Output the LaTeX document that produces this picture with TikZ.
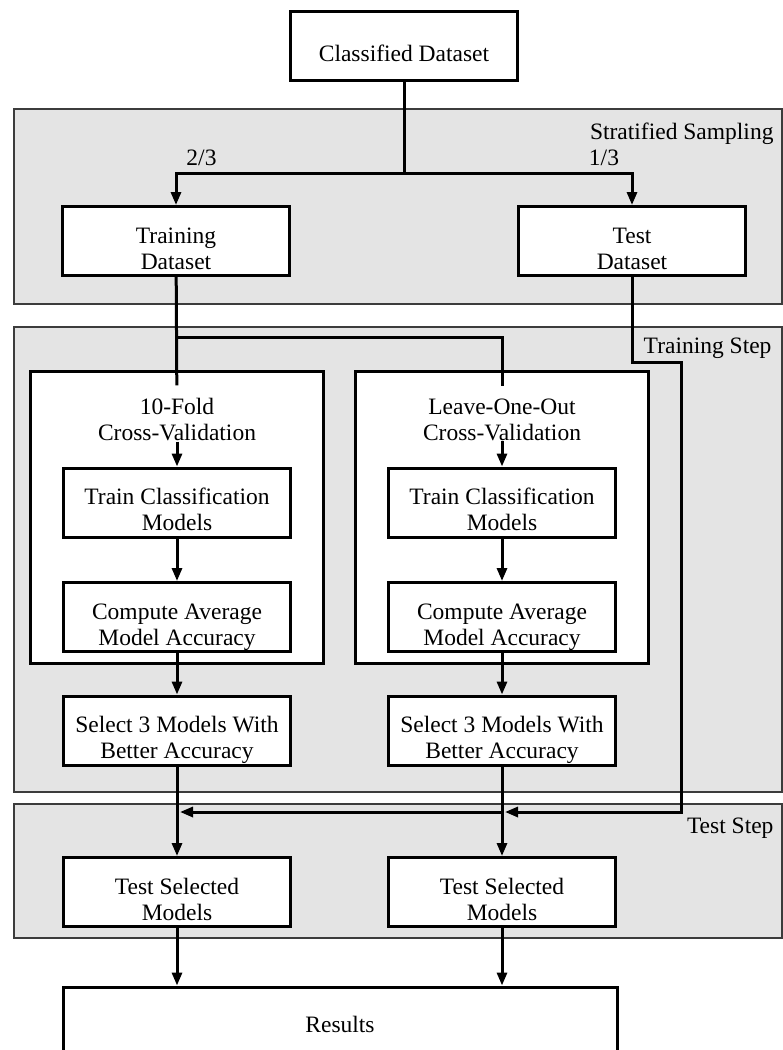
\documentclass[tikz,border=0pt]{standalone}
\usepackage{fontspec}
\setmainfont{Liberation Serif}
\usetikzlibrary{arrows.meta,calc}
\definecolor{panel}{HTML}{E4E4E4}
\definecolor{rim}{HTML}{3C3C3C}
\newcommand\boxtext[2][-10pt]{\raisebox{#1}[\height][\depth]{\begin{tabular}{@{}c@{}}#2\end{tabular}}}

\begin{document}
\begin{tikzpicture}[x=1pt,y=-1pt,
  every node/.style={font=\fontsize{23.5}{26}\selectfont},
  stepbox/.style={draw,line width=3pt,fill=white,minimum width=227pt,minimum height=69pt,inner sep=0pt},
  cvbox/.style={draw,line width=3pt,fill=white,minimum width=293pt,minimum height=292pt,inner sep=0pt},
  headtxt/.style={align=center,inner sep=0pt},
  region/.style={fill=panel,draw=rim,line width=1.2pt},
  line/.style={line width=3pt},
  arr/.style={line,-{Triangle[length=13pt,width=10pt]}}]
  \useasboundingbox (0,0) rectangle (783,1050);
  \clip (0,0) rectangle (783,1050);
  % the three stages
  \draw[region] (14,109) rectangle (782,304);
  \draw[region] (14,327) rectangle (782,792);
  \draw[region] (14,804) rectangle (782,938);
  \node[anchor=base east] (strat) at (777,139) {Stratified Sampling};
  \node[anchor=base east] (trainstep) at (775,353) {Training Step};
  \node[anchor=base east] (teststep) at (777,833) {Test Step};

  \node[stepbox] (data) at (404,46) {\boxtext{Classified Dataset}};
  \node[stepbox] (train) at (176,241) {\boxtext{Training\\Dataset}};
  \node[stepbox] (test) at (632,241) {\boxtext{Test\\Dataset}};
  \node[anchor=base] (twothirds) at (201.5,165) {2/3};
  \node[anchor=base] (onethird) at (604,165) {1/3};

  \foreach \c/\x/\heading in {1/177/{10-Fold\\Cross-Validation},2/502/{Leave-One-Out\\Cross-Validation}}{
    \node[cvbox] (cv\c) at (\x,517) {};
    \node[headtxt] (head\c) at (\x,420) {\heading};
    \node[stepbox] (cls\c) at (\x,502.5) {\boxtext{Train Classification\\Models}};
    \node[stepbox] (avg\c) at (\x,617) {\boxtext{Compute Average\\Model Accuracy}};
    \node[stepbox] (sel\c) at (\x,730.5) {\boxtext{Select 3 Models With\\Better Accuracy}};
    \node[stepbox] (tsel\c) at (\x,892) {\boxtext{Test Selected\\Models}};}
  \node[stepbox,minimum width=554pt,minimum height=80pt] (res) at (340,1027) {\boxtext[0pt]{Results}};

  % sampling split
  \coordinate (split) at (404,173);
  \draw[line] (data) -- (split);
  \draw[arr] (split) -| (train);
  \draw[arr] (split) -| (test);
  \coordinate (fork) at (176,337);
  \draw[line,shorten >=13pt] (train) -- (head1);
  \draw[line,shorten >=13pt] (fork) -| (head2);
  \foreach \c in {1,2}{
    \draw[arr] (head\c) -- (cls\c);
    \draw[arr] (cls\c) -- (avg\c);
    \draw[arr] (avg\c) -- (sel\c);
    \draw[arr] (sel\c) -- (tsel\c);
    \draw[arr] (tsel\c) -- (tsel\c |- res.north);}
  % test set goes round to the test step
  \coordinate (jog) at (681,362);
  \coordinate (feed) at (681,812);
  \draw[arr] (test) |- (jog) -- (feed) -- ($(sel2.south |- feed)+(3,0)$);
  \draw[arr] (sel2.south |- feed) -- ($(sel1.south |- feed)+(3,0)$);
\end{tikzpicture}
\end{document}
